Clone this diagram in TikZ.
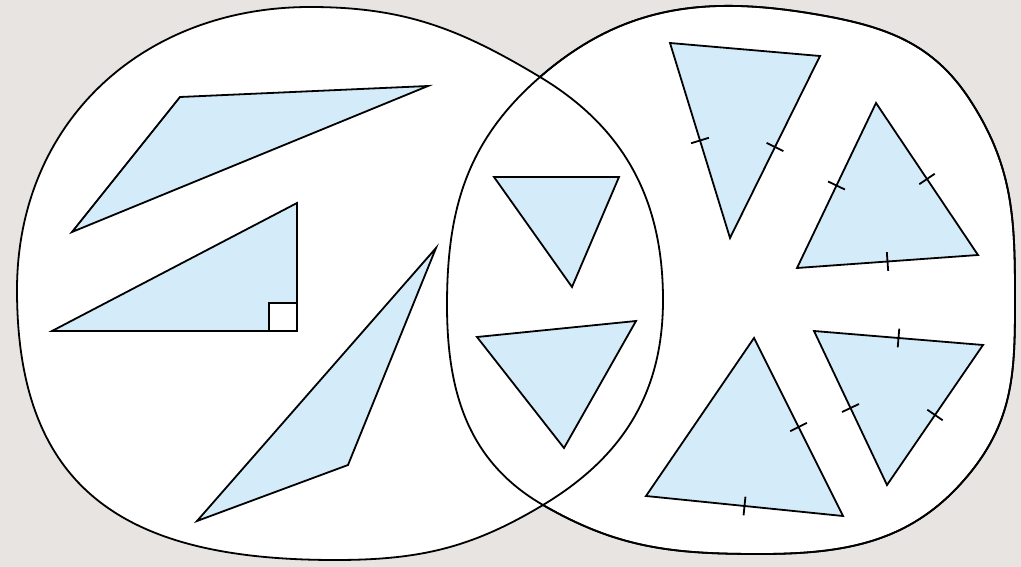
\documentclass[tikz,border=0pt]{standalone}
\usepackage{xcolor}
\usepackage{tikz}
\usetikzlibrary{calc}
\definecolor{paper}{RGB}{231,228,225}
\definecolor{triblue}{RGB}{212,236,249}
\newcommand{\hashmark}[2]{\draw[hash] ($(#1)!.5!(#2)!7pt!90:(#2)$) -- ($(#1)!.5!(#2)!7pt!-90:(#2)$);}
\newcommand{\rightblob}{(q1) to[out=-10,in=123] (q2) to[out=-57,in=90] (q3)
	to[out=-90,in=51] (q4) to[out=-129,in=0] (q5) to[out=180,in=-30] (top-x)
	to[out=150,in=-90] (q6) to[out=90,in=-139] (bot-x) to[out=41,in=170] cycle}

\begin{document}
\begin{tikzpicture}[
		x=0.75pt, y=-0.75pt,
		blob/.style={draw, fill=white, line width=1.35pt, line join=round},
		tri/.style={draw, fill=triblue, line width=1.35pt, line join=miter},
		hash/.style={line width=1.35pt}
		]
		\fill[paper] (0,0) rectangle (1021,567);
		\useasboundingbox (0,0) rectangle (1021,567);

		\coordinate (bot-x) at (540,77);
		\coordinate (top-x) at (543,505);
		\coordinate (p1) at (17,290);
		\coordinate (p2) at (310,7);
		\coordinate (p3) at (663,300);
		\coordinate (p4) at (335,560);
		\coordinate (q1) at (820,15);
		\coordinate (q2) at (970,100);
		\coordinate (q3) at (1015,300);
		\coordinate (q4) at (970,473);
		\coordinate (q5) at (760,554);
		\coordinate (q6) at (447,305);

		\path[blob] \rightblob;
		\path[blob] (p1) to[out=90,in=180,looseness=1.05] (p2)
			to[out=0,in=149] (bot-x) to[out=-31,in=90] (p3)
			to[out=-90,in=31] (top-x) to[out=-149,in=0] (p4)
			to[out=180,in=-90,looseness=1.25] cycle;
		\draw[line width=1.35pt] \rightblob;

		\coordinate (o1) at (72,232);
		\coordinate (o2) at (180,97);
		\coordinate (o3) at (428,86);
		\draw[tri] (o1) -- (o2) -- (o3) -- cycle;

		\coordinate (r1) at (52,331);
		\coordinate (r2) at (297,203);
		\coordinate (r3) at (297,331);
		\draw[tri] (r1) -- (r2) -- (r3) -- cycle;
		\draw[line width=1.35pt, fill=white] (r3) rectangle ++(-28,-28);

		\coordinate (s1) at (197,521);
		\coordinate (s2) at (436,248);
		\coordinate (s3) at (348,465);
		\draw[tri] (s1) -- (s2) -- (s3) -- cycle;

		\coordinate (l1) at (494,177);
		\coordinate (l2) at (619,177);
		\coordinate (l3) at (572,287);
		\draw[tri] (l1) -- (l2) -- (l3) -- cycle;

		\coordinate (m1) at (477,337);
		\coordinate (m2) at (636,321);
		\coordinate (m3) at (564,448);
		\draw[tri] (m1) -- (m2) -- (m3) -- cycle;

		\coordinate (i1) at (670,43);
		\coordinate (i2) at (820,56);
		\coordinate (i3) at (730,238);
		\draw[tri] (i1) -- (i2) -- (i3) -- cycle;
		\hashmark{i1}{i3}
		\hashmark{i2}{i3}

		\coordinate (e1) at (876,103);
		\coordinate (e2) at (978,255);
		\coordinate (e3) at (797,268);
		\draw[tri] (e1) -- (e2) -- (e3) -- cycle;
		\hashmark{e1}{e2}
		\hashmark{e2}{e3}
		\hashmark{e3}{e1}

		\coordinate (f1) at (754,338);
		\coordinate (f2) at (843,516);
		\coordinate (f3) at (646,496);
		\draw[tri] (f1) -- (f2) -- (f3) -- cycle;
		\hashmark{f1}{f2}
		\hashmark{f2}{f3}

		\coordinate (g1) at (814,331);
		\coordinate (g2) at (983,345);
		\coordinate (g3) at (887,485);
		\draw[tri] (g1) -- (g2) -- (g3) -- cycle;
		\hashmark{g1}{g2}
		\hashmark{g2}{g3}
		\hashmark{g3}{g1}
	\end{tikzpicture}
\end{document}
